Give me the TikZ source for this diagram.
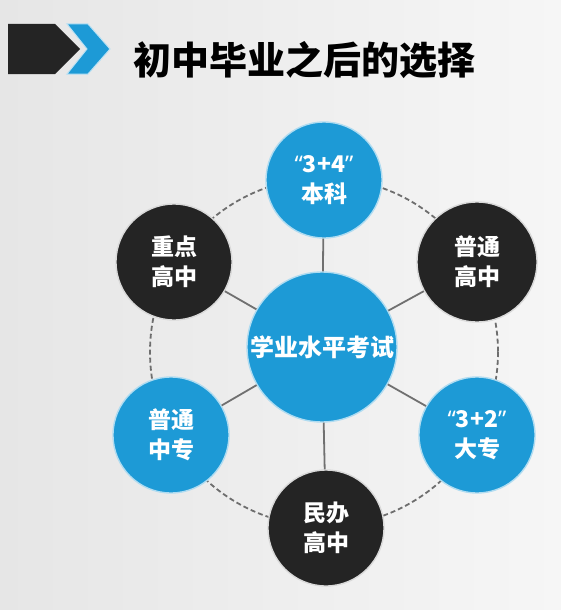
\documentclass[tikz,border=0pt]{standalone}
\usepackage{fontspec}
\newfontfamily\cjk{Noto Sans CJK SC}
\newfontfamily\lat{Noto Sans}
\definecolor{bgL}{HTML}{E6E6E6}
\definecolor{bgR}{HTML}{F6F6F6}
\definecolor{cblue}{HTML}{1D9AD6}
\definecolor{cdark}{HTML}{242424}
\definecolor{cline}{HTML}{707070}
\definecolor{cdash}{HTML}{6E6E6E}
\newcommand{\qt}[1]{{\lat\bfseries “}{\cjk\bfseries #1}{\lat\bfseries ”}}
\tikzset{
  bubble/.style={circle, inner sep=0pt, minimum size=116pt, line width=1.4pt,
    text=white, align=center, font=\cjk\bfseries\fontsize{23}{30}\selectfont},
  bluebub/.style={bubble, fill=cblue, draw=cblue!35!white},
  darkbub/.style={bubble, fill=cdark, draw=white!85!black},
  spoke/.style={draw=cline, line width=1.8pt},
  ring/.style={draw=cdash, line width=1.8pt, dash pattern=on 5pt off 3pt},
}
\begin{document}
\begin{tikzpicture}[x=1pt,y=-1pt]
\useasboundingbox (0,0) rectangle (561,610);
\shade[left color=bgL, right color=bgR] (0,0) rectangle (561,610);
% title marks
\fill[cdark] (8,24) -- (55,24) -- (80,49) -- (55,74) -- (8,74) -- cycle;
\fill[cblue, draw=cblue!30!white, line width=1pt] (67,24) -- (88,24) -- (110,49) -- (88,74) -- (67,74) -- (87,49) -- cycle;
\node[anchor=west, inner sep=0pt, font=\cjk\bfseries\fontsize{38}{38}\selectfont, text=black] (title) at (133,60) {初中毕业之后的选择};
% dashed ring
\draw[ring] (324,352) circle[radius=174];
% circles
\node[bluebub, minimum size=150pt, font=\cjk\bfseries\fontsize{24}{30}\selectfont] (c) at (322,347) {学业水平考试};
\node[bluebub] (t) at (324,180) {\qt{3+4}\\本科};
\node[darkbub] (lt) at (174,262) {重点\\高中};
\node[darkbub, minimum size=120pt] (rt) at (477,262) {普通\\高中};
\node[bluebub] (lb) at (171,435) {普通\\中专};
\node[bluebub] (rb) at (477,435) {\qt{3+2}\\大专};
\node[darkbub] (b) at (326,528) {民办\\高中};
% spokes
\foreach \n in {t,lt,rt,lb,rb,b} \draw[spoke] (c) -- (\n);
\end{tikzpicture}
\end{document}
